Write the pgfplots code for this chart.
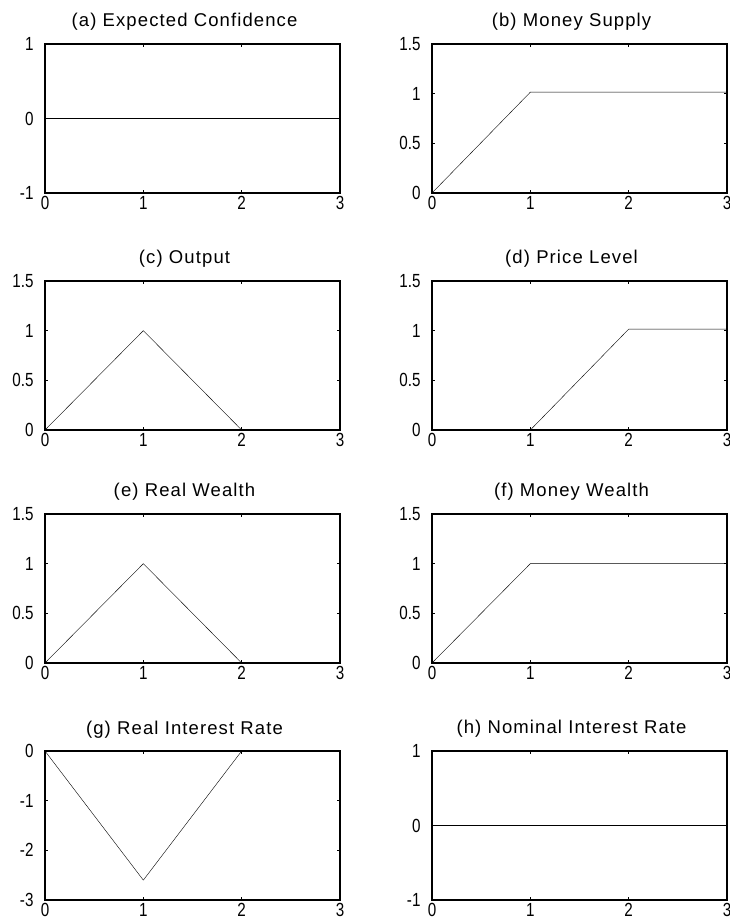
\documentclass[border=0pt]{standalone}
\usepackage{fontspec}
\setmainfont{Liberation Sans}
\newfontfamily\tickfont{Liberation Sans}[FakeStretch=0.8]
\newfontfamily\titlefont{Liberation Sans}[LetterSpace=6]
\usepackage{pgfplots}
\pgfplotsset{compat=1.18}

\pgfplotsset{
  panel/.style={
    scale only axis,
    width=295pt, height=149pt,
    anchor=south west,
    xmin=0, xmax=3,
    xtick={0,1,2,3},
    tick align=inside,
    major tick length=3pt,
    axis line style={line width=1.7pt},
    every tick/.style={black, line width=1.2pt},
    /pgf/number format/assume math mode=true,
    tick label style={font=\tickfont\fontsize{19}{21}\selectfont},
    yticklabel style={xshift=-8pt},
    xticklabel style={yshift=0pt},
    title style={font=\titlefont\fontsize{18.5}{20}\selectfont,
      at={(0.5,1)}, anchor=base, yshift=11pt, xshift=-8pt},
    cycle list={{black, line width=1.5pt, no marks}},
  },
}

\begin{document}
\begin{tikzpicture}
\useasboundingbox (0,0) rectangle (730pt,922pt);

% row 1
\begin{axis}[panel, at={(45pt,729pt)}, title={(a) Expected Confidence},
  ymin=-1, ymax=1, ytick={-1,0,1}]
\addplot coordinates {(0,0) (1,0) (2,0) (3,0)};
\end{axis}
\begin{axis}[panel, at={(432pt,729pt)}, title={(b) Money Supply},
  ymin=0, ymax=1.5, ytick={0,0.5,1,1.5}]
\addplot coordinates {(0,0) (1,1.015) (2,1.015) (3,1.015)};
\end{axis}

% row 2
\begin{axis}[panel, at={(45pt,492pt)}, title={(c) Output},
  ymin=0, ymax=1.5, ytick={0,0.5,1,1.5}]
\addplot coordinates {(0,0) (1,1) (2,0) (3,0)};
\end{axis}
\begin{axis}[panel, at={(432pt,492pt)}, title={(d) Price Level},
  ymin=0, ymax=1.5, ytick={0,0.5,1,1.5}]
\addplot coordinates {(0,0) (1,0) (2,1.015) (3,1.015)};
\end{axis}

% row 3
\begin{axis}[panel, at={(45pt,259pt)}, title={(e) Real Wealth},
  ymin=0, ymax=1.5, ytick={0,0.5,1,1.5}]
\addplot coordinates {(0,0) (1,1) (2,0) (3,0)};
\end{axis}
\begin{axis}[panel, at={(432pt,259pt)}, title={(f) Money Wealth},
  ymin=0, ymax=1.5, ytick={0,0.5,1,1.5}]
\addplot coordinates {(0,0) (1,1) (2,1) (3,1)};
\end{axis}

% row 4
\begin{axis}[panel, at={(45pt,22pt)}, title={(g) Real Interest Rate},
  ymin=-3, ymax=0, ytick={-3,-2,-1,0}]
\addplot coordinates {(0,0) (1,-2.6) (2,0) (3,0)};
\end{axis}
\begin{axis}[panel, at={(432pt,22pt)}, title={(h) Nominal Interest Rate},
  ymin=-1, ymax=1, ytick={-1,0,1}]
\addplot coordinates {(0,0) (1,0) (2,0) (3,0)};
\end{axis}
\end{tikzpicture}
\end{document}
